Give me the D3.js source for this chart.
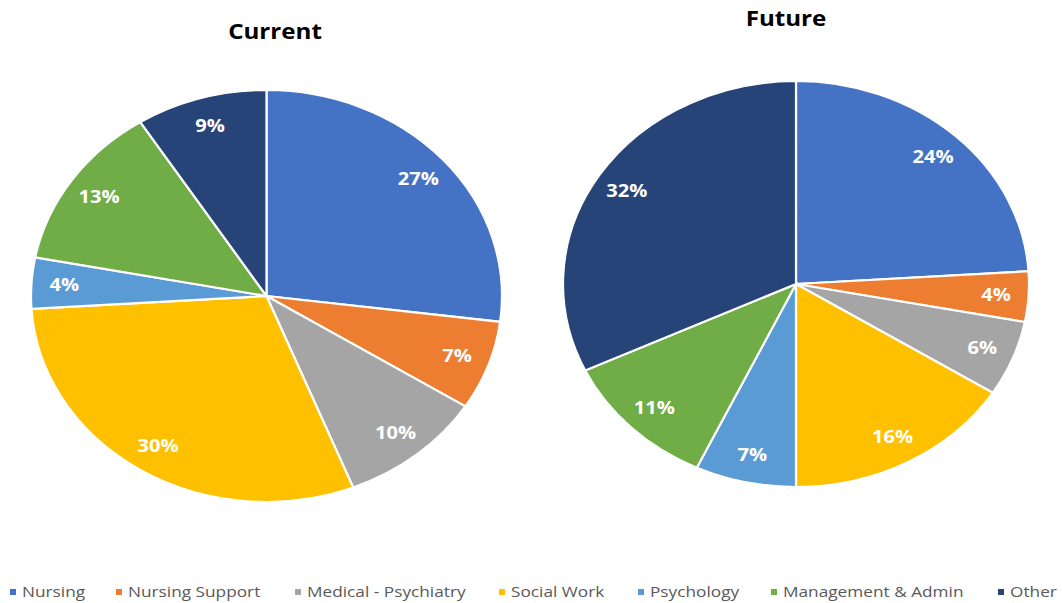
<!DOCTYPE html>
<html>
<head>
<meta charset="utf-8">
<script src="https://cdn.jsdelivr.net/npm/d3@7/dist/d3.min.js"></script>
<style>
  html, body { margin: 0; padding: 0; background: #fff; }
  svg { display: block; }
</style>
</head>
<body>
<svg id="chart" width="1062" height="603"></svg>
<script>
// Workforce mix by staff group, current vs future
const categories = ["Nursing", "Nursing Support", "Medical - Psychiatry", "Social Work", "Psychology", "Management & Admin", "Other"];
const currentValues = [27, 7, 10, 30, 4, 13, 9];
const futureValues = [24, 4, 6, 16, 7, 11, 32];
const chartTitles = ["Current", "Future"];
const sliceColors = ["#4472C4", "#ED7D31", "#A5A5A5", "#FFC000", "#5B9BD5", "#70AD47", "#264478"];

const svg = d3.select("#chart");
const SX = 1.15; // horizontal stretch of the whole graphic

const color = d3.scaleOrdinal().domain(categories).range(sliceColors);
const pie = d3.pie().sort(null).value(d => d.value);

const panels = [
  { title: chartTitles[0], values: currentValues, cx: 266.5, cy: 296, rx: 235.5, ry: 206, tx: 275, ty: 39 },
  { title: chartTitles[1], values: futureValues, cx: 796, cy: 284, rx: 233, ry: 203, tx: 786, ty: 26 }
];

panels.forEach(p => {
  const data = categories.map((c, i) => ({ category: c, value: p.values[i] }));
  const arcs = pie(data);
  const arc = d3.arc().innerRadius(0).outerRadius(p.ry);
  const labelArc = d3.arc().innerRadius(p.ry * 0.86).outerRadius(p.ry * 0.86);
  const sx = p.rx / p.ry;

  const g = svg.append("g")
    .attr("transform", `translate(${p.cx},${p.cy}) scale(${sx},1)`);

  g.selectAll("path.slice")
    .data(arcs)
    .join("path")
    .attr("class", "slice")
    .attr("d", arc)
    .attr("fill", d => color(d.data.category))
    .attr("stroke", "#fff")
    .attr("stroke-width", 2.2)
    .attr("vector-effect", "non-scaling-stroke");

  // value labels, placed in unstretched coordinates
  svg.append("g").selectAll("text")
    .data(arcs)
    .join("text")
    .attr("transform", d => {
      const [x, y] = labelArc.centroid(d);
      return `translate(${p.cx + x * sx},${p.cy + y}) scale(${SX},1)`;
    })
    .attr("text-anchor", "middle")
    .attr("dy", "0.35em")
    .attr("font-family", "'Open Sans', sans-serif")
    .attr("font-weight", 700)
    .attr("font-size", 17.5)
    .attr("fill", "#fff")
    .text(d => d.data.value + "%");

  svg.append("text")
    .attr("transform", `translate(${p.tx},${p.ty}) scale(${SX},1)`)
    .attr("text-anchor", "middle")
    .attr("font-family", "'Open Sans', sans-serif")
    .attr("font-weight", 700)
    .attr("font-size", 21)
    .attr("fill", "#000")
    .text(p.title);
});

// legend along the bottom
const legendX = [10, 116, 295, 499, 638, 771, 998];
const legend = svg.append("g");
const items = legend.selectAll("g")
  .data(categories)
  .join("g")
  .attr("transform", (d, i) => `translate(${legendX[i]},597)`);

items.append("rect")
  .attr("x", 0)
  .attr("y", -8)
  .attr("width", 6)
  .attr("height", 6)
  .attr("fill", d => color(d));

items.append("text")
  .attr("transform", `translate(12,0) scale(${SX},1)`)
  .attr("font-family", "'Open Sans', sans-serif")
  .attr("font-size", 15)
  .attr("fill", "#595959")
  .text(d => d);
</script>
</body>
</html>
